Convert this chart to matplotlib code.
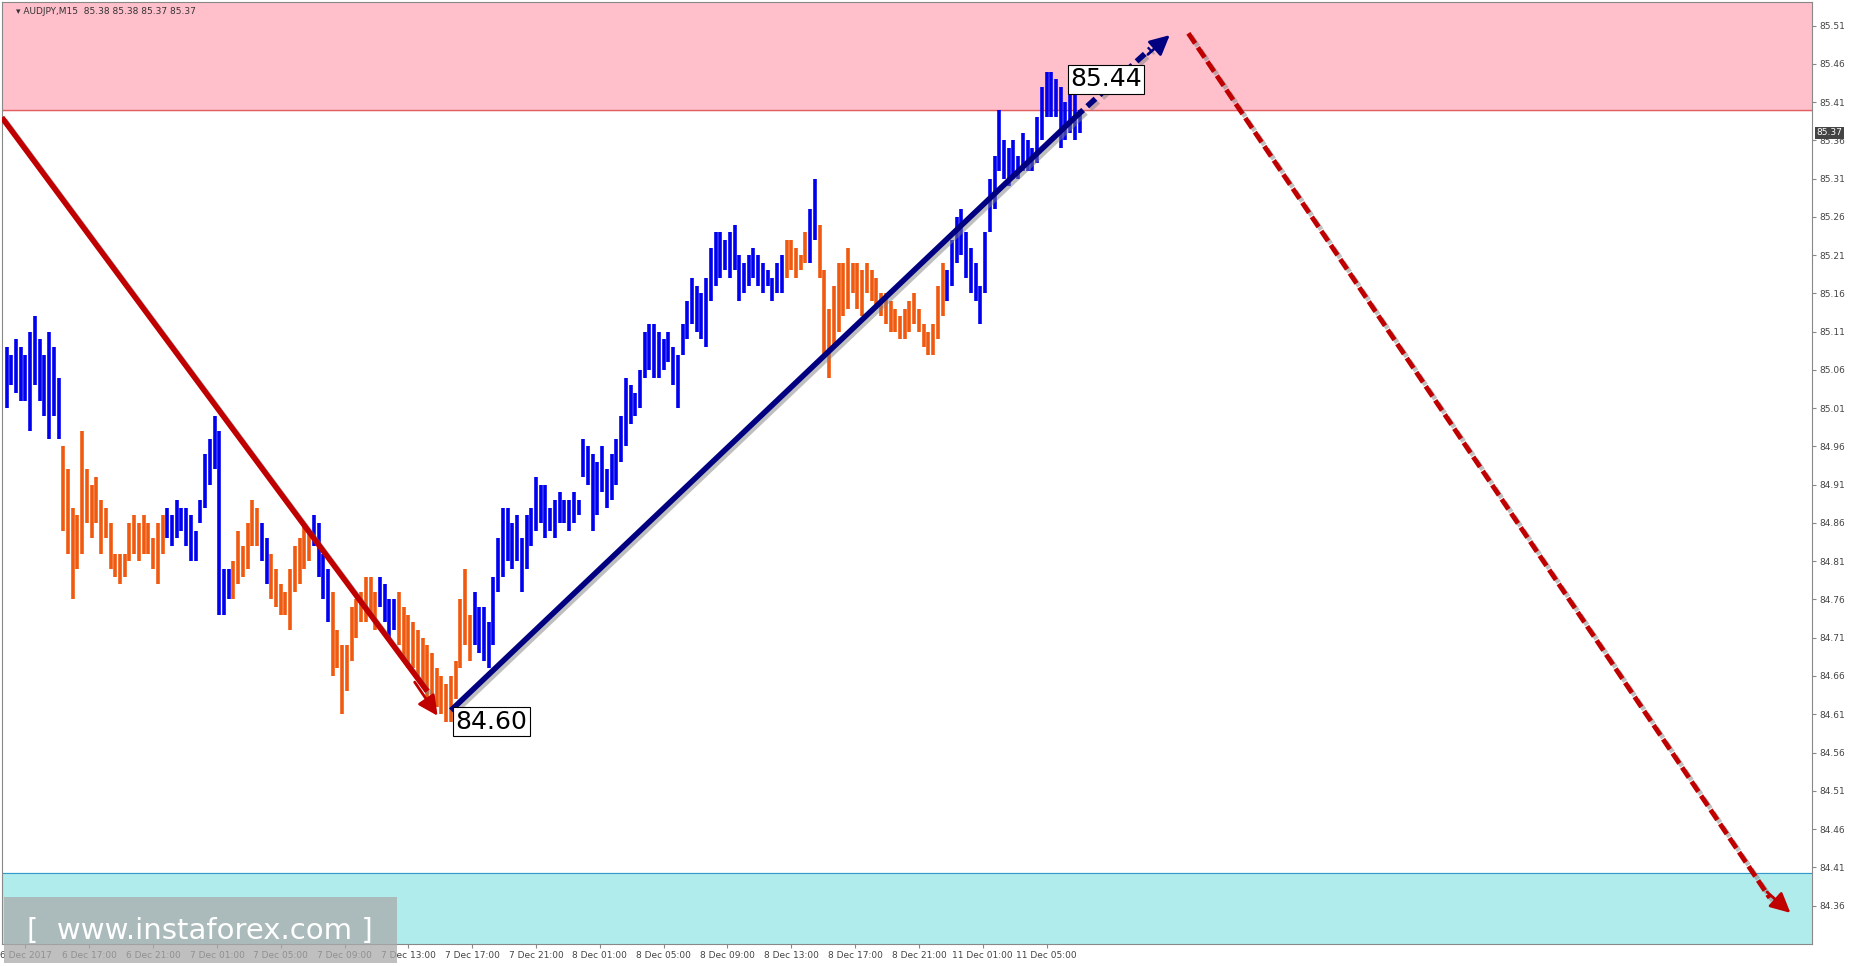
import matplotlib
matplotlib.use("Agg")
import matplotlib.pyplot as plt
import matplotlib.patheffects as pe
import numpy as np

highs = [85.09,85.08,85.10,85.09,85.08,85.11,85.13,85.10,85.08,85.11,85.09,85.05,
 84.96,84.93,84.88,84.87,84.98,84.93,84.91,84.92,84.89,84.88,84.86,84.82,84.82,84.82,84.86,84.87,84.86,84.87,84.86,84.84,84.86,84.87,
 84.88,84.87,84.89,84.88,84.88,84.87,84.85,84.89,84.95,84.97,85.00,84.98,84.80,84.80,
 84.81,84.85,84.83,84.86,84.89,84.88,84.86,84.84,84.82,84.80,84.78,84.77,84.80,84.83,84.84,84.86,84.85,
 84.87,84.86,84.82,84.80,84.77,84.72,84.70,84.70,84.75,84.76,84.77,84.79,84.79,84.77,
 84.79,84.78,84.76,84.76,84.77,84.75,84.74,84.73,84.72,84.71,84.70,84.69,84.67,84.66,84.65,84.66,84.68,84.76,84.80,84.74,
 84.77,84.75,84.75,84.73,84.79,84.84,84.88,84.88,84.86,84.87,84.84,84.87,84.88,84.92,84.91,84.91,84.88,84.89,84.90,84.89,84.89,84.90,84.89,
 84.97,84.96,84.95,84.94,84.96,84.93,84.95,84.97,85.00,85.05,85.04,85.03,85.06,85.11,85.12,85.12,85.11,85.10,85.11,85.09,85.08,
 85.12,85.15,85.18,85.17,85.16,85.18,85.22,85.24,85.24,85.23,85.24,85.25,85.21,85.20,85.21,85.22,85.21,85.20,85.19,85.18,85.20,85.21,
 85.23,85.23,85.22,85.21,85.24,85.27,85.31,85.25,85.19,85.14,85.17,85.20,85.20,85.22,85.20,85.20,85.19,85.20,85.19,85.18,85.16,85.16,
 85.15,85.14,85.13,85.14,85.15,85.16,85.14,85.12,85.11,85.12,85.17,85.20,
 85.19,85.23,85.26,85.27,85.24,85.22,85.20,85.17,85.24,85.31,85.34,85.40,85.36,85.35,85.36,85.34,85.37,85.36,85.35,85.39,85.43,85.45,85.45,
 85.44,85.43,85.41,85.42,85.42,85.40]
lows = [85.01,85.04,85.03,85.02,85.02,84.98,85.04,85.02,85.00,84.97,85.00,84.97,
 84.85,84.82,84.76,84.80,84.82,84.86,84.84,84.86,84.82,84.84,84.80,84.79,84.78,84.79,84.81,84.82,84.81,84.82,84.82,84.80,84.78,84.82,
 84.84,84.83,84.84,84.85,84.83,84.81,84.81,84.86,84.88,84.91,84.93,84.74,84.74,84.76,
 84.76,84.78,84.79,84.80,84.83,84.83,84.81,84.78,84.76,84.75,84.74,84.74,84.72,84.77,84.78,84.80,84.81,
 84.83,84.79,84.76,84.73,84.66,84.67,84.61,84.64,84.68,84.71,84.73,84.73,84.74,84.72,
 84.75,84.73,84.71,84.72,84.70,84.68,84.67,84.67,84.66,84.65,84.63,84.63,84.62,84.61,84.60,84.60,84.63,84.67,84.70,84.68,
 84.70,84.69,84.68,84.67,84.70,84.77,84.79,84.81,84.80,84.81,84.77,84.80,84.83,84.85,84.86,84.84,84.85,84.84,84.86,84.86,84.85,84.86,84.87,
 84.92,84.91,84.85,84.87,84.90,84.88,84.89,84.91,84.94,84.96,84.99,85.00,85.01,85.05,85.06,85.05,85.05,85.06,85.07,85.04,85.01,
 85.08,85.10,85.12,85.11,85.10,85.09,85.15,85.17,85.18,85.19,85.18,85.19,85.15,85.16,85.17,85.18,85.17,85.16,85.17,85.15,85.16,85.16,
 85.18,85.19,85.18,85.19,85.20,85.20,85.23,85.18,85.08,85.05,85.09,85.11,85.13,85.14,85.16,85.14,85.13,85.16,85.15,85.14,85.13,85.12,
 85.11,85.11,85.10,85.10,85.11,85.12,85.11,85.09,85.08,85.08,85.10,85.13,
 85.15,85.17,85.20,85.21,85.18,85.16,85.15,85.12,85.16,85.24,85.27,85.32,85.31,85.30,85.31,85.31,85.32,85.32,85.32,85.33,85.36,85.39,85.39,
 85.39,85.35,85.36,85.37,85.36,85.37]
colors_code = ("b"*12 + "o"*22 + "b"*14 + "o"*6 + "b"*2 + "o"*9 + "b"*4 + "o"*10 + "b"*4 + "o"*16
               + "b"*66 + "o"*5 + "b"*2 + "o"*27 + "b"*29)
tick_labels = ["6 Dec 2017","6 Dec 17:00","6 Dec 21:00","7 Dec 01:00","7 Dec 05:00","7 Dec 09:00",
               "7 Dec 13:00","7 Dec 17:00","7 Dec 21:00","8 Dec 01:00","8 Dec 05:00","8 Dec 09:00",
               "8 Dec 13:00","8 Dec 17:00","8 Dec 21:00","11 Dec 01:00","11 Dec 05:00"]
price_ticks = [round(85.51 - 0.05*i, 2) for i in range(24)]

n = min(len(highs), len(lows))
highs, lows = highs[:n], lows[:n]
cc = (colors_code + "b"*n)[:n]
cmap = {"b": "#0000ee", "o": "#f05a10"}

fig = plt.figure(figsize=(18.55, 9.66), dpi=100)
ax = fig.add_axes([0.001, 0.023, 0.976, 0.975])
xmax = 382.
ax.set_xlim(-1, xmax)
ax.set_ylim(84.31, 85.541)

ax.axhspan(85.40, 85.6, color="#ffc0cb", zorder=0)
ax.axhline(85.40, color="#e06060", lw=1, zorder=1)
ax.axhspan(84.2, 84.402, color="#b0ecec", zorder=0)
ax.axhline(84.402, color="#3399cc", lw=0.8, zorder=1)

x = np.arange(n)
for i in range(n):
    ax.vlines(x[i], lows[i], highs[i], color=cmap[cc[i]], lw=2.6, zorder=2)

sh = [pe.SimpleLineShadow(offset=(2, -2), shadow_color="gray", alpha=0.5), pe.Normal()]
ax.plot([-1, 89], [85.39, 84.64], color="#c00000", lw=4, solid_capstyle="butt", path_effects=sh, zorder=3)
ax.annotate("", xy=(91.5, 84.605), xytext=(86, 84.655),
            arrowprops=dict(arrowstyle="-|>,head_width=0.6,head_length=1.2", color="#c00000", lw=2), zorder=4)
ax.plot([94, 226], [84.615, 85.39], color="#000080", lw=4, solid_capstyle="butt", path_effects=sh, zorder=3)
ax.plot([226, 242], [85.39, 85.48], color="#000080", lw=4, ls=(0, (2, 1)), path_effects=sh, zorder=3)
ax.annotate("", xy=(246.5, 85.50), xytext=(241, 85.47),
            arrowprops=dict(arrowstyle="-|>,head_width=0.6,head_length=1.2", color="#000080", lw=2), zorder=4)
ax.plot([250, 373], [85.50, 84.37], color="#c00000", lw=3.5, ls=(0, (2.5, 1)), path_effects=sh, zorder=3)
ax.annotate("", xy=(377.8, 84.348), xytext=(372, 84.38),
            arrowprops=dict(arrowstyle="-|>,head_width=0.6,head_length=1.2", color="#c00000", lw=2), zorder=4)

box = dict(boxstyle="square,pad=0.1", fc="white", ec="black", lw=0.8)
ax.text(95, 84.60, "84.60", fontsize=18, va="center", ha="left", bbox=box, zorder=5)
ax.text(225, 85.44, "85.44", fontsize=18, va="center", ha="left", bbox=box, zorder=5)

ax.yaxis.tick_right()
ax.set_yticks(price_ticks)
ax.set_yticklabels([f"{p:.2f}" for p in price_ticks], fontsize=6.5, color="#444444")
tick_pos = [4 + 13.5*i for i in range(len(tick_labels))]
ax.set_xticks(tick_pos)
ax.set_xticklabels(tick_labels, fontsize=6.5, color="#444444")
ax.tick_params(length=3, color="#888888", pad=2)
for s in ax.spines.values():
    s.set_color("#888888")

ax.text(2, 85.528, "\u25be AUDJPY,M15  85.38 85.38 85.37 85.37", fontsize=6.5, color="#333333", va="center")
ax.annotate("85.37", xy=(1.0, 85.37), xycoords=("axes fraction", "data"), xytext=(3, 0),
            textcoords="offset points", fontsize=6.5, color="white", va="center",
            bbox=dict(boxstyle="square,pad=0.15", fc="#444444", ec="none"), annotation_clip=False)

fig.patches.append(plt.Rectangle((0.002, 0.003), 0.212, 0.068, transform=fig.transFigure,
                                 fc="#aaaaaa", alpha=0.75, ec="none", zorder=10))
fig.text(0.108, 0.036, "[  www.instaforex.com ]", fontsize=21, color="white", ha="center", va="center", zorder=11)

fig.savefig("out.png", dpi=100)
